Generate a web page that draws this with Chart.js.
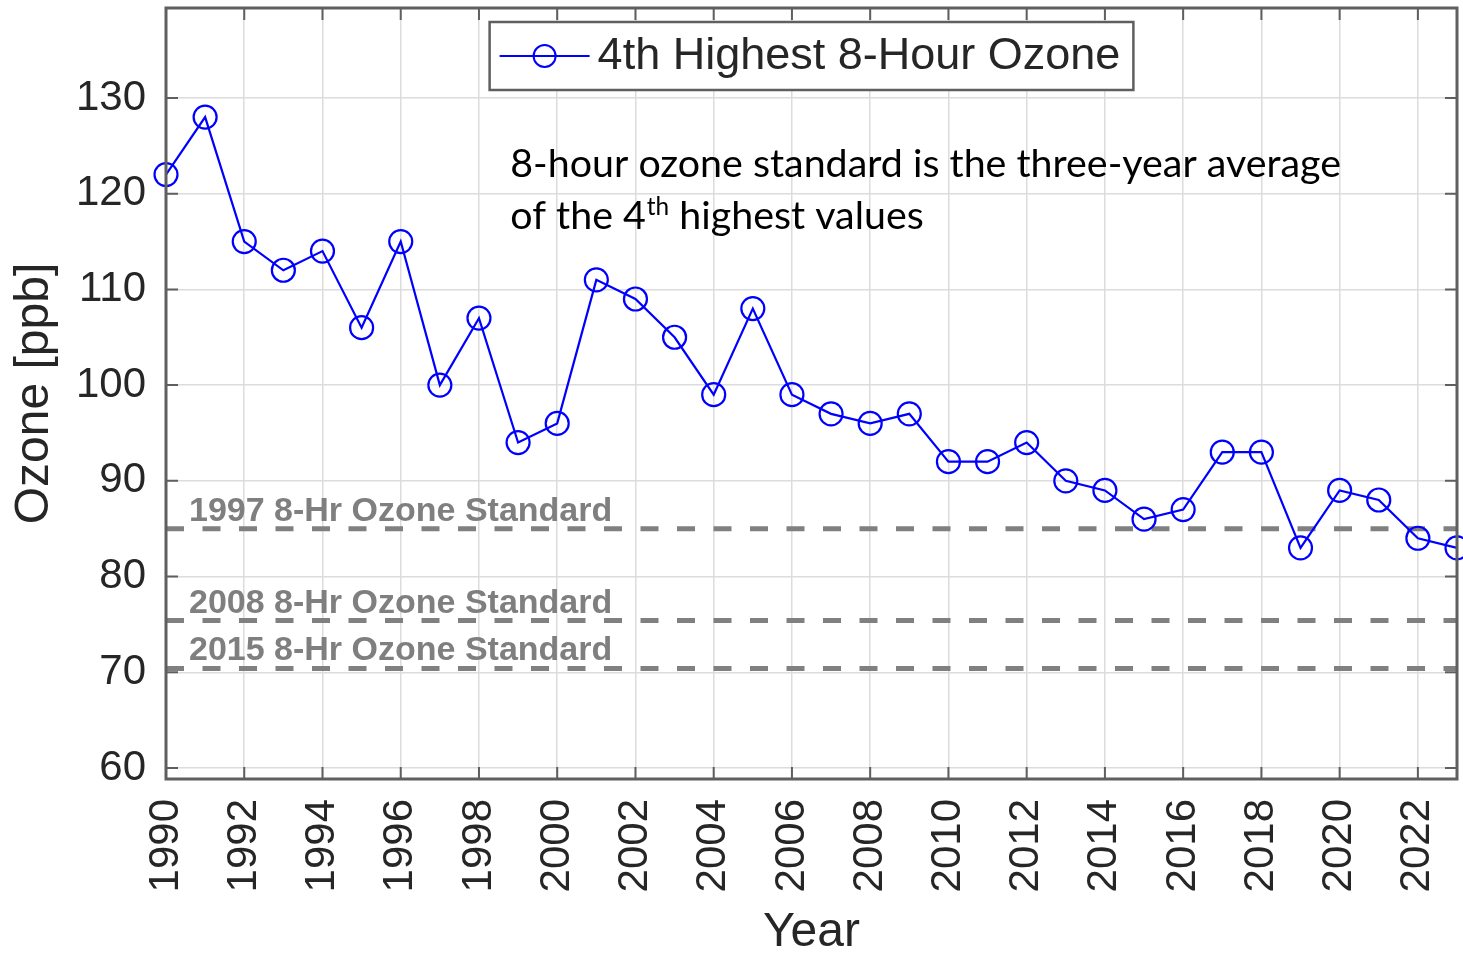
<!DOCTYPE html>
<html>
<head>
<meta charset="utf-8">
<script src="https://cdn.jsdelivr.net/npm/chart.js@4.4.1/dist/chart.umd.min.js"></script>
<style>
  html, body { margin: 0; padding: 0; background: #fff; }
  #wrap { width: 1463px; height: 957px; }
</style>
</head>
<body>
<div id="wrap"><canvas id="ozone-chart"></canvas></div>
<script>
// Values
const years = [1990, 1991, 1992, 1993, 1994, 1995, 1996, 1997, 1998, 1999,
  2000, 2001, 2002, 2003, 2004, 2005, 2006, 2007, 2008, 2009,
  2010, 2011, 2012, 2013, 2014, 2015, 2016, 2017, 2018, 2019,
  2020, 2021, 2022, 2023];
const ozone = [122, 128, 115, 112, 114, 106, 115, 100, 107, 94,
  96, 111, 109, 105, 99, 108, 99, 97, 96, 97,
  92, 92, 94, 90, 89, 86, 87, 93, 93, 83,
  89, 88, 84, 83];
const seriesLabel = "4th Highest 8-Hour Ozone";

const standardLabels = ["1997 8-Hr Ozone Standard", "2008 8-Hr Ozone Standard", "2015 8-Hr Ozone Standard"];
const standardValues = [85, 75.4, 70.4];
const standardSpan = [1990, 2023];

const xTicks = [1990, 1992, 1994, 1996, 1998, 2000, 2002, 2004, 2006, 2008, 2010,
  2012, 2014, 2016, 2018, 2020, 2022];
const yTicks = [60, 70, 80, 90, 100, 110, 120, 130];

const noteLine1 = "8-hour ozone standard is the three-year average";
const noteLine2 = ["of the 4", "th", " highest values"];
const notePos = { x: 1998.8, y1: 121.7, y2: 116.3 };

const axisFont = "'Liberation Sans', Arial, Helvetica, sans-serif";
const noteFont = "Lato, 'Open Sans', sans-serif";
const textColor = "#262626";
const boxColor = "#5f5f5f";
const gridColor = "#dcdcdc";

// one dataset per standard line, two points each
const standardSets = standardValues.map((v, i) => ({
  label: standardLabels[i],
  data: standardSpan.map(yr => ({ x: yr, y: v })),
  borderColor: "#808080",
  borderWidth: 5,
  borderDash: [18, 18.5],
  pointRadius: 0,
  fill: false,
}));

// drop the label overhang padding chart.js adds around the plot
function noPad(s) {
  s.paddingTop = 0;
  s.paddingBottom = 0;
  s.paddingLeft = 0;
  s.paddingRight = 0;
}

// Box, inward ticks, standard labels, note text and legend
const decorations = {
  id: "decorations",
  beforeDatasetsDraw(chart) {
    const { ctx, scales: { y } } = chart;
    const area = chart.chartArea;
    ctx.save();
    ctx.font = "bold 34px " + axisFont;
    ctx.fillStyle = "#7f7f7f";
    ctx.textBaseline = "alphabetic";
    ctx.textAlign = "left";
    standardValues.forEach((v, i) => {
      ctx.fillText(standardLabels[i], area.left + 23, y.getPixelForValue(v) - 8);
    });

    // note text, fitted to the width seen in the figure
    ctx.fillStyle = "#000";
    ctx.font = "100px " + noteFont;
    const size = 100 * 831 / ctx.measureText(noteLine1).width;
    const nx = chart.scales.x.getPixelForValue(notePos.x);
    ctx.font = size + "px " + noteFont;
    ctx.fillText(noteLine1, nx, y.getPixelForValue(notePos.y1));
    const y2 = y.getPixelForValue(notePos.y2);
    ctx.fillText(noteLine2[0], nx, y2);
    let cx = nx + ctx.measureText(noteLine2[0]).width;
    ctx.font = (size * 0.62) + "px " + noteFont;
    ctx.fillText(noteLine2[1], cx + 1, y2 - size * 0.36);
    cx += ctx.measureText(noteLine2[1]).width + 1;
    ctx.font = size + "px " + noteFont;
    ctx.fillText(noteLine2[2], cx, y2);
    ctx.restore();
  },
  afterDraw(chart) {
    const { ctx, scales: { x, y } } = chart;
    const a = chart.chartArea;
    ctx.save();
    ctx.strokeStyle = boxColor;
    ctx.lineWidth = 2;
    const tl = 12;
    ctx.beginPath();
    xTicks.forEach(t => {
      const px = x.getPixelForValue(t);
      ctx.moveTo(px, a.bottom); ctx.lineTo(px, a.bottom - tl);
      ctx.moveTo(px, a.top); ctx.lineTo(px, a.top + tl);
    });
    yTicks.forEach(t => {
      const py = y.getPixelForValue(t);
      ctx.moveTo(a.left, py); ctx.lineTo(a.left + tl, py);
      ctx.moveTo(a.right, py); ctx.lineTo(a.right - tl, py);
    });
    ctx.stroke();
    ctx.lineWidth = 3;
    ctx.strokeRect(a.left, a.top, a.right - a.left, a.bottom - a.top);

    // legend box inside the plot, centred at the top
    const ds = chart.data.datasets[0];
    ctx.font = "45px " + axisFont;
    const tw = ctx.measureText(ds.label).width;
    const bw = 10 + 90 + 8 + tw + 13;
    const bh = 68;
    const bx = (a.left + a.right) / 2 - bw / 2;
    const by = a.top + 14;
    ctx.fillStyle = "#fff";
    ctx.fillRect(bx, by, bw, bh);
    ctx.lineWidth = 2.5;
    ctx.strokeStyle = boxColor;
    ctx.strokeRect(bx, by, bw, bh);
    const cy = by + bh / 2;
    ctx.strokeStyle = ds.borderColor;
    ctx.lineWidth = 2;
    ctx.beginPath();
    ctx.moveTo(bx + 10, cy); ctx.lineTo(bx + 100, cy);
    ctx.stroke();
    ctx.beginPath();
    ctx.arc(bx + 55, cy, 11, 0, Math.PI * 2);
    ctx.stroke();
    ctx.fillStyle = textColor;
    ctx.textBaseline = "middle";
    ctx.fillText(ds.label, bx + 108, cy + 1);
    ctx.restore();
  },
};

const ctx = document.getElementById("ozone-chart").getContext("2d");
const chart = new Chart(ctx, {
  type: "line",
  data: {
    datasets: [
      {
        label: seriesLabel,
        data: years.map((yr, i) => ({ x: yr, y: ozone[i] })),
        borderColor: "#0000ff",
        borderWidth: 2.2,
        pointRadius: 11.5,
        pointBorderWidth: 2.2,
        pointBackgroundColor: "rgba(0,0,0,0)",
        pointBorderColor: "#0000ff",
        fill: false,
        tension: 0,
        clip: 20,
      },
      ...standardSets,
    ],
  },
  options: {
    responsive: true,
    maintainAspectRatio: false,
    animation: false,
    events: [],
    layout: { autoPadding: false, padding: { top: 8, right: 6, left: 0, bottom: 0 } },
    plugins: { legend: { display: false }, tooltip: { enabled: false } },
    scales: {
      x: {
        type: "linear",
        min: 1990,
        max: 2023,
        afterBuildTicks: s => { s.ticks = xTicks.map(v => ({ value: v })); },
        afterFit: s => { s.height = 178; noPad(s); },
        grid: { color: gridColor, lineWidth: 1.5, drawTicks: false },
        border: { display: false },
        ticks: {
          minRotation: 90,
          maxRotation: 90,
          padding: 20,
          color: textColor,
          font: { family: axisFont, size: 42 },
          callback: v => String(v),
        },
        title: {
          display: true,
          text: "Year",
          color: textColor,
          font: { family: axisFont, size: 48, lineHeight: 1 },
          padding: { top: 0, bottom: 0 },
        },
      },
      y: {
        min: 58.85,
        max: 139.4,
        afterBuildTicks: s => { s.ticks = yTicks.map(v => ({ value: v })); },
        afterFit: s => { s.width = 166; noPad(s); },
        grid: { color: gridColor, lineWidth: 1.5, drawTicks: false },
        border: { display: false },
        ticks: {
          padding: 20,
          color: textColor,
          font: { family: axisFont, size: 42 },
          callback: v => String(v),
        },
        title: {
          display: true,
          text: "Ozone [ppb]",
          color: textColor,
          font: { family: axisFont, size: 48, lineHeight: 1 },
          padding: { top: 11, bottom: 0 },
        },
      },
    },
  },
  plugins: [decorations],
});
</script>
</body>
</html>
